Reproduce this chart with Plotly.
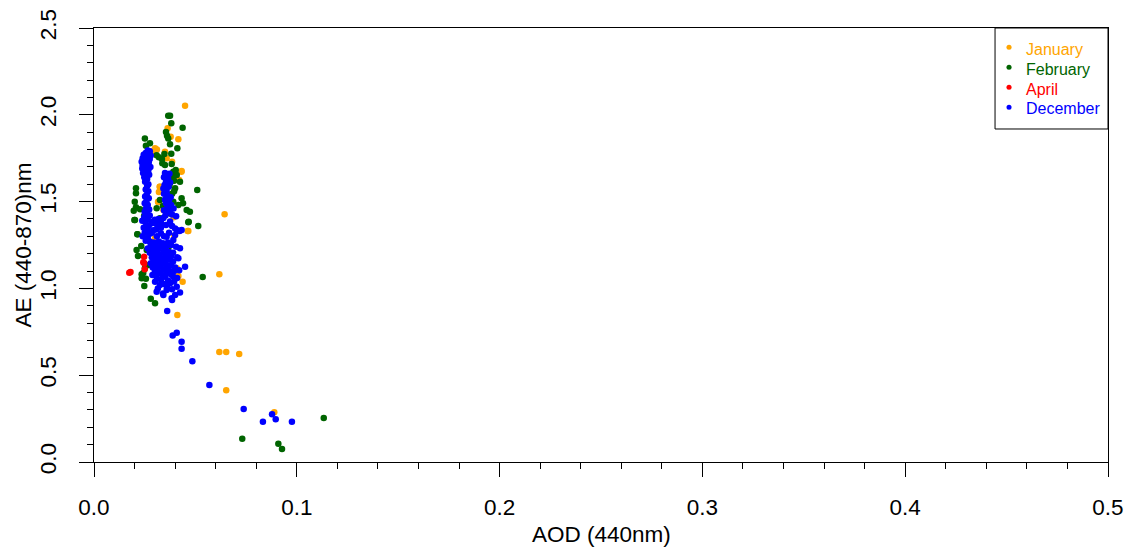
import plotly.graph_objects as go

# AOD (440nm) / AE (440-870) observations by month
jan_aod = [0.0449, 0.0363, 0.0378, 0.0416, 0.0301, 0.0310, 0.0292, 0.0350, 0.0358, 0.0431,
           0.0432, 0.0324, 0.0325, 0.0316, 0.0317, 0.0342, 0.0644, 0.0462, 0.0396, 0.0465,
           0.0301, 0.0393, 0.0408, 0.0437, 0.0416, 0.0618, 0.0411, 0.0618, 0.0652, 0.0716,
           0.0652, 0.0889, 0.0320, 0.0420, 0.0385, 0.0330]
jan_ae = [2.052, 1.922, 1.874, 1.859, 1.807, 1.800, 1.793, 1.787, 1.749, 1.672,
          1.676, 1.586, 1.586, 1.498, 1.499, 1.452, 1.427, 1.331, 1.302, 1.331,
          1.289, 1.410, 1.116, 1.039, 1.071, 1.081, 0.847, 0.634, 0.634, 0.622,
          0.413, 0.286, 1.555, 1.625, 1.730, 1.255]

feb_aod = [0.0366, 0.0375, 0.0381, 0.0437, 0.0355, 0.0360, 0.0366, 0.0375, 0.0251, 0.0276,
           0.0256, 0.0411, 0.0381, 0.0347, 0.0309, 0.0320, 0.0335, 0.0350, 0.0337, 0.0383,
           0.0391, 0.0408, 0.0403, 0.0424, 0.0375, 0.0400, 0.0390, 0.0395, 0.0358, 0.0385,
           0.0432, 0.0439, 0.0416, 0.0325, 0.0391, 0.0457, 0.0473, 0.0309, 0.0375, 0.0509,
           0.0514, 0.0467, 0.0465, 0.0360, 0.0380, 0.0340, 0.0355, 0.0325, 0.0366, 0.0370,
           0.0207, 0.0207, 0.0201, 0.0196, 0.0207, 0.0199, 0.0214, 0.0227, 0.0247, 0.0202,
           0.0214, 0.0210, 0.0233, 0.0217, 0.0260, 0.0273, 0.0251, 0.0243, 0.0235, 0.0235,
           0.0256, 0.0248, 0.0280, 0.0301, 0.0536, 0.0731, 0.0909, 0.0927, 0.1133, 0.0395]
feb_ae = [1.995, 1.995, 1.951, 1.926, 1.901, 1.880, 1.864, 1.830, 1.864, 1.836,
          1.822, 1.807, 1.776, 1.774, 1.767, 1.755, 1.745, 1.711, 1.721, 1.717,
          1.672, 1.653, 1.682, 1.615, 1.605, 1.577, 1.640, 1.560, 1.538, 1.545,
          1.519, 1.490, 1.480, 1.509, 1.499, 1.452, 1.442, 1.461, 1.432, 1.567,
          1.359, 1.384, 1.381, 1.490, 1.470, 1.475, 1.445, 1.404, 1.231, 1.590,
          1.577, 1.548, 1.499, 1.448, 1.467, 1.394, 1.312, 1.456, 1.417, 1.394,
          1.312, 1.221, 1.244, 1.187, 1.221, 1.135, 1.116, 1.088, 1.081, 1.058,
          1.056, 1.014, 0.941, 0.914, 1.066, 0.134, 0.105, 0.075, 0.253, 1.620]

apr_aod = [0.0247, 0.0248, 0.0250, 0.0174, 0.0180, 0.0243]
apr_ae = [1.183, 1.145, 1.110, 1.090, 1.094, 1.150]

dec_aod = [0.0265, 0.0275, 0.0255, 0.0245, 0.0270, 0.0280, 0.0240, 0.0260, 0.0275, 0.0235,
           0.0255, 0.0270, 0.0240, 0.0262, 0.0278, 0.0238, 0.0250, 0.0268, 0.0242, 0.0258,
           0.0272, 0.0248, 0.0262, 0.0252, 0.0268,
           0.0262, 0.0255, 0.0268, 0.0260, 0.0252, 0.0270, 0.0258, 0.0250, 0.0265, 0.0256,
           0.0272, 0.0250, 0.0262, 0.0275, 0.0248, 0.0265, 0.0238, 0.0255, 0.0285, 0.0270,
           0.0245, 0.0262, 0.0292, 0.0250, 0.0275, 0.0240,
           0.0350, 0.0362, 0.0372, 0.0345, 0.0365, 0.0355, 0.0375, 0.0348, 0.0368, 0.0342,
           0.0358, 0.0345, 0.0362, 0.0378, 0.0350, 0.0370, 0.0355, 0.0380, 0.0362, 0.0392,
           0.0345, 0.0372, 0.0385, 0.0405, 0.0352,
           0.0300, 0.0318, 0.0342, 0.0292, 0.0330, 0.0375, 0.0310, 0.0355, 0.0306, 0.0330,
           0.0385, 0.0400, 0.0408, 0.0432, 0.0422, 0.0285, 0.0330, 0.0358, 0.0391, 0.0400,
           0.0370, 0.0345, 0.0310, 0.0265,
           0.0255, 0.0275, 0.0295, 0.0320, 0.0340, 0.0365, 0.0380, 0.0280, 0.0305, 0.0330,
           0.0355, 0.0424, 0.0405, 0.0265, 0.0290, 0.0315, 0.0345, 0.0370, 0.0390, 0.0275,
           0.0300, 0.0325, 0.0355, 0.0380, 0.0410, 0.0285, 0.0310, 0.0338, 0.0365, 0.0416,
           0.0295, 0.0320, 0.0350, 0.0390,
           0.0280, 0.0305, 0.0330, 0.0360, 0.0380, 0.0449, 0.0400, 0.0290, 0.0315, 0.0345,
           0.0370, 0.0395, 0.0420, 0.0300, 0.0325, 0.0355, 0.0317, 0.0380, 0.0288, 0.0340,
           0.0350, 0.0391, 0.0410, 0.0310, 0.0330, 0.0365, 0.0301, 0.0395, 0.0375, 0.0345,
           0.0325, 0.0408, 0.0360, 0.0315, 0.0385, 0.0358, 0.0309, 0.0424, 0.0340, 0.0342,
           0.0400, 0.0383, 0.0385,
           0.0361, 0.0388, 0.0408, 0.0432, 0.0432, 0.0485, 0.0569, 0.0738, 0.0833, 0.0878,
           0.0896, 0.0976]
dec_ae = [1.795, 1.790, 1.780, 1.770, 1.770, 1.765, 1.750, 1.750, 1.745, 1.730,
          1.730, 1.725, 1.710, 1.705, 1.700, 1.690, 1.685, 1.680, 1.665, 1.660,
          1.655, 1.640, 1.630, 1.615, 1.600,
          1.590, 1.570, 1.560, 1.540, 1.530, 1.520, 1.500, 1.490, 1.480, 1.460,
          1.455, 1.440, 1.430, 1.420, 1.410, 1.400, 1.390, 1.380, 1.375, 1.360,
          1.350, 1.340, 1.335, 1.320, 1.315, 1.300,
          1.665, 1.655, 1.660, 1.640, 1.635, 1.615, 1.610, 1.595, 1.585, 1.575,
          1.560, 1.545, 1.535, 1.525, 1.510, 1.505, 1.490, 1.480, 1.465, 1.460,
          1.450, 1.440, 1.425, 1.415, 1.420,
          1.395, 1.400, 1.405, 1.385, 1.380, 1.385, 1.370, 1.365, 1.340, 1.350,
          1.360, 1.345, 1.336, 1.336, 1.330, 1.320, 1.317, 1.298, 1.279, 1.308,
          1.320, 1.300, 1.300, 1.290,
          1.275, 1.270, 1.265, 1.270, 1.260, 1.265, 1.250, 1.250, 1.245, 1.240,
          1.235, 1.231, 1.240, 1.230, 1.225, 1.220, 1.215, 1.210, 1.205, 1.205,
          1.200, 1.195, 1.190, 1.185, 1.180, 1.180, 1.175, 1.170, 1.165, 1.173,
          1.160, 1.155, 1.150, 1.155,
          1.145, 1.140, 1.135, 1.130, 1.135, 1.125, 1.120, 1.120, 1.115, 1.110,
          1.105, 1.100, 1.105, 1.095, 1.090, 1.085, 1.087, 1.080, 1.077, 1.070,
          1.067, 1.067, 1.060, 1.060, 1.050, 1.045, 1.039, 1.040, 1.029, 1.025,
          1.020, 1.010, 1.005, 1.000, 0.995, 0.991, 0.981, 0.977, 0.970, 0.962,
          0.962, 0.943, 0.933,
          0.870, 0.728, 0.745, 0.693, 0.653, 0.580, 0.443, 0.305, 0.232, 0.275,
          0.246, 0.232]

months = ["January", "February", "April", "December"]
colors = ["#FFA500", "#006400", "#FF0000", "#0000FF"]
series_x = [jan_aod, feb_aod, apr_aod, dec_aod]
series_y = [jan_ae, feb_ae, apr_ae, dec_ae]

x_ticks = [0.0, 0.1, 0.2, 0.3, 0.4, 0.5]
y_ticks = [0.0, 0.5, 1.0, 1.5, 2.0, 2.5]

FONT = "Liberation Sans, Arial, sans-serif"

fig = go.Figure()
for name, col, xs, ys in zip(months, colors, series_x, series_y):
    fig.add_trace(go.Scatter(
        x=xs, y=ys, mode="markers", name=name, showlegend=False,
        marker=dict(color=col, size=6.5, line=dict(width=0)),
    ))

axis_common = dict(
    showgrid=False, zeroline=False, showline=True, linecolor="black", linewidth=1,
    mirror=True, ticks="outside", ticklen=14, tickwidth=1, tickcolor="black",
    tickfont=dict(family=FONT, size=22.5, color="black"), tickformat=".1f",
    automargin=False,
)

fig.update_xaxes(
    range=[0, 0.5], tickvals=x_ticks, ticklabelstandoff=11,
    minor=dict(ticks="outside", ticklen=6, tickwidth=1, tickcolor="black", dtick=0.02, tick0=0),
    **axis_common,
)
fig.update_yaxes(
    range=[0, 2.5], tickvals=y_ticks, tickangle=-90, ticklabelstandoff=14,
    minor=dict(ticks="outside", ticklen=6, tickwidth=1, tickcolor="black", dtick=0.1, tick0=0),
    **axis_common,
)

# Axis titles
annotations = [
    dict(text="AOD (440nm)", x=0.5, y=-0.168, xref="paper", yref="paper",
         xanchor="center", yanchor="middle", showarrow=False, borderpad=0,
         font=dict(family=FONT, size=22.5, color="black")),
    dict(text="AE (440-870)nm", x=-0.0705, y=0.5, xref="paper", yref="paper",
         xanchor="center", yanchor="middle", textangle=-90, showarrow=False,
         font=dict(family=FONT, size=22.5, color="black")),
]

# Legend box in the top-right corner
shapes = [dict(type="rect", xref="paper", yref="paper", x0=0.8886, x1=1.0, y0=0.7673, y1=1.0,
               line=dict(color="black", width=1), fillcolor="white")]
legend_rows_y = [0.9516, 0.9055, 0.8594, 0.8134]
for name, col, ly in zip(months, colors, legend_rows_y):
    annotations.append(dict(text=name, x=0.9171, y=ly, xref="paper", yref="paper",
                            xanchor="left", yanchor="middle", showarrow=False,
                            font=dict(family=FONT, size=16, color=col)))
    shapes.append(dict(type="circle", xref="paper", yref="paper",
                       x0=0.9024 - 0.0025, x1=0.9024 + 0.0025,
                       y0=ly + 0.004 - 0.0058, y1=ly + 0.004 + 0.0058,
                       line=dict(width=0), fillcolor=col))

fig.update_layout(
    width=1132, height=548,
    margin=dict(l=94, r=24, t=28, b=86),
    plot_bgcolor="white", paper_bgcolor="white",
    annotations=annotations, shapes=shapes,
)

fig.write_html("out.html", config={"displayModeBar": False})
